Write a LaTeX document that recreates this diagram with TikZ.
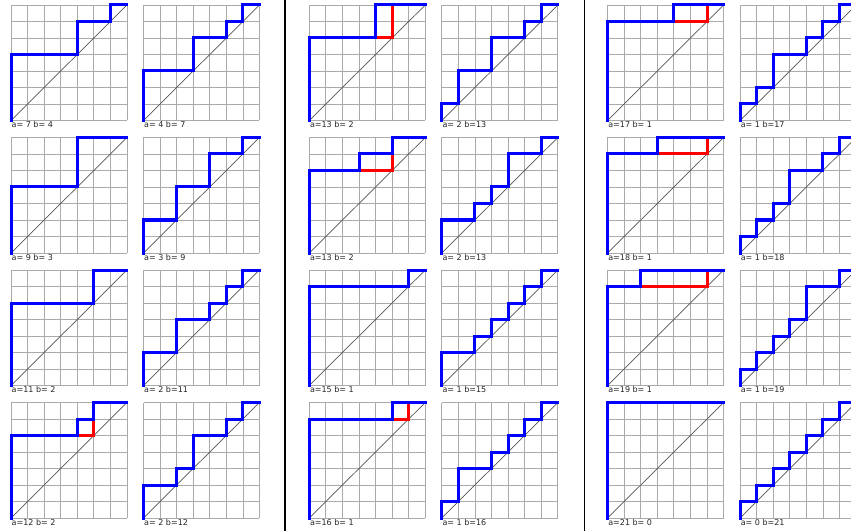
\documentclass[tikz,border=0pt]{standalone}
\usepackage{fontspec}
\newfontfamily\labfont{DejaVu Sans}
\definecolor{gridgray}{HTML}{AAAAAA}
\definecolor{diaggray}{HTML}{555555}
\tikzset{
  gridline/.style={draw=gridgray,line width=0.8pt},
  diagline/.style={draw=diaggray,line width=0.7pt},
  bluepath/.style={draw=blue,line width=3pt,line join=miter,line cap=rect},
  redpath/.style={draw=red,line width=3pt,line join=miter,line cap=rect},
  lab/.style={anchor=north west,inner sep=0pt,font=\labfont\fontsize{8pt}{9pt}\selectfont,text=black!85},
  sepline/.style={draw=black,line width=1.2pt}
}
% #1 name, #2 x, #3 y bottom, #4 blue path, #5 red path, #6 label
\newcommand\dyckgrid[6]{%
  \begin{scope}[shift={(#2pt,#3pt)},x=16.57pt,y=16.5pt]
    \foreach \k in {0,...,7} {
      \draw[gridline] (\k,0) -- (\k,7);
      \draw[gridline] (0,\k) -- (7,\k);
    }
    \draw[diagline] (0,0) -- (7,7);
    \def\tmpred{#5}\ifx\tmpred\empty\else\draw[redpath] #5;\fi
    \draw[bluepath] #4;
    \node[lab] (#1) at (0.03,-0.07) {#6};
  \end{scope}}
\begin{document}
\begin{tikzpicture}[x=1pt,y=1pt]
\useasboundingbox (0,0) rectangle (851,531);
\clip (0,0) rectangle (851,531);
\fill[white] (0,0) rectangle (851,531);
% separators
\coordinate (s1t) at (285,531); \coordinate (s1b) at (285,0);
\coordinate (s2t) at (584.5,531); \coordinate (s2b) at (584.5,0);
\draw[sepline] (s1t) -- (s1b);
\draw[sepline] (s2t) -- (s2b);
% group 1
\dyckgrid{l11}{11}{410.5}{(0,0)--(0,4)--(4,4)--(4,6)--(6,6)--(6,7)--(7,7)}{}{a= 7 b= 4}
\dyckgrid{l12}{143.5}{410.5}{(0,0)--(0,3)--(3,3)--(3,5)--(5,5)--(5,6)--(6,6)--(6,7)--(7,7)}{}{a= 4 b= 7}
\dyckgrid{l21}{11}{278}{(0,0)--(0,4)--(4,4)--(4,7)--(7,7)}{}{a= 9 b= 3}
\dyckgrid{l22}{143.5}{278}{(0,0)--(0,2)--(2,2)--(2,4)--(4,4)--(4,6)--(6,6)--(6,7)--(7,7)}{}{a= 3 b= 9}
\dyckgrid{l31}{11}{145.5}{(0,0)--(0,5)--(5,5)--(5,7)--(7,7)}{}{a=11 b= 2}
\dyckgrid{l32}{143.5}{145.5}{(0,0)--(0,2)--(2,2)--(2,4)--(4,4)--(4,5)--(5,5)--(5,6)--(6,6)--(6,7)--(7,7)}{}{a= 2 b=11}
\dyckgrid{l41}{11}{13}{(0,0)--(0,5)--(4,5)--(4,6)--(5,6)--(5,7)--(7,7)}{(4,5)--(5,5)--(5,6)}{a=12 b= 2}
\dyckgrid{l42}{143.5}{13}{(0,0)--(0,2)--(2,2)--(2,3)--(3,3)--(3,5)--(5,5)--(5,6)--(6,6)--(6,7)--(7,7)}{}{a= 2 b=12}
% group 2
\dyckgrid{m11}{309.3}{410.5}{(0,0)--(0,5)--(4,5)--(4,7)--(7,7)}{(4,5)--(5,5)--(5,7)}{a=13 b= 2}
\dyckgrid{m12}{441.8}{410.5}{(0,0)--(0,1)--(1,1)--(1,3)--(3,3)--(3,5)--(5,5)--(5,6)--(6,6)--(6,7)--(7,7)}{}{a= 2 b=13}
\dyckgrid{m21}{309.3}{278}{(0,0)--(0,5)--(3,5)--(3,6)--(5,6)--(5,7)--(7,7)}{(3,5)--(5,5)--(5,6)}{a=13 b= 2}
\dyckgrid{m22}{441.8}{278}{(0,0)--(0,2)--(2,2)--(2,3)--(3,3)--(3,4)--(4,4)--(4,6)--(6,6)--(6,7)--(7,7)}{}{a= 2 b=13}
\dyckgrid{m31}{309.3}{145.5}{(0,0)--(0,6)--(6,6)--(6,7)--(7,7)}{}{a=15 b= 1}
\dyckgrid{m32}{441.8}{145.5}{(0,0)--(0,2)--(2,2)--(2,3)--(3,3)--(3,4)--(4,4)--(4,5)--(5,5)--(5,6)--(6,6)--(6,7)--(7,7)}{}{a= 1 b=15}
\dyckgrid{m41}{309.3}{13}{(0,0)--(0,6)--(5,6)--(5,7)--(7,7)}{(5,6)--(6,6)--(6,7)}{a=16 b= 1}
\dyckgrid{m42}{441.8}{13}{(0,0)--(0,1)--(1,1)--(1,3)--(3,3)--(3,4)--(4,4)--(4,5)--(5,5)--(5,6)--(6,6)--(6,7)--(7,7)}{}{a= 1 b=16}
% group 3
\dyckgrid{r11}{607.6}{410.5}{(0,0)--(0,6)--(4,6)--(4,7)--(7,7)}{(4,6)--(6,6)--(6,7)}{a=17 b= 1}
\dyckgrid{r12}{740.1}{410.5}{(0,0)--(0,1)--(1,1)--(1,2)--(2,2)--(2,4)--(4,4)--(4,5)--(5,5)--(5,6)--(6,6)--(6,7)--(7,7)}{}{a= 1 b=17}
\dyckgrid{r21}{607.6}{278}{(0,0)--(0,6)--(3,6)--(3,7)--(7,7)}{(3,6)--(6,6)--(6,7)}{a=18 b= 1}
\dyckgrid{r22}{740.1}{278}{(0,0)--(0,1)--(1,1)--(1,2)--(2,2)--(2,3)--(3,3)--(3,5)--(5,5)--(5,6)--(6,6)--(6,7)--(7,7)}{}{a= 1 b=18}
\dyckgrid{r31}{607.6}{145.5}{(0,0)--(0,6)--(2,6)--(2,7)--(7,7)}{(2,6)--(6,6)--(6,7)}{a=19 b= 1}
\dyckgrid{r32}{740.1}{145.5}{(0,0)--(0,1)--(1,1)--(1,2)--(2,2)--(2,3)--(3,3)--(3,4)--(4,4)--(4,6)--(6,6)--(6,7)--(7,7)}{}{a= 1 b=19}
\dyckgrid{r41}{607.6}{13}{(0,0)--(0,7)--(7,7)}{}{a=21 b= 0}
\dyckgrid{r42}{740.1}{13}{(0,0)--(0,1)--(1,1)--(1,2)--(2,2)--(2,3)--(3,3)--(3,4)--(4,4)--(4,5)--(5,5)--(5,6)--(6,6)--(6,7)--(7,7)}{}{a= 0 b=21}
\end{tikzpicture}
\end{document}
